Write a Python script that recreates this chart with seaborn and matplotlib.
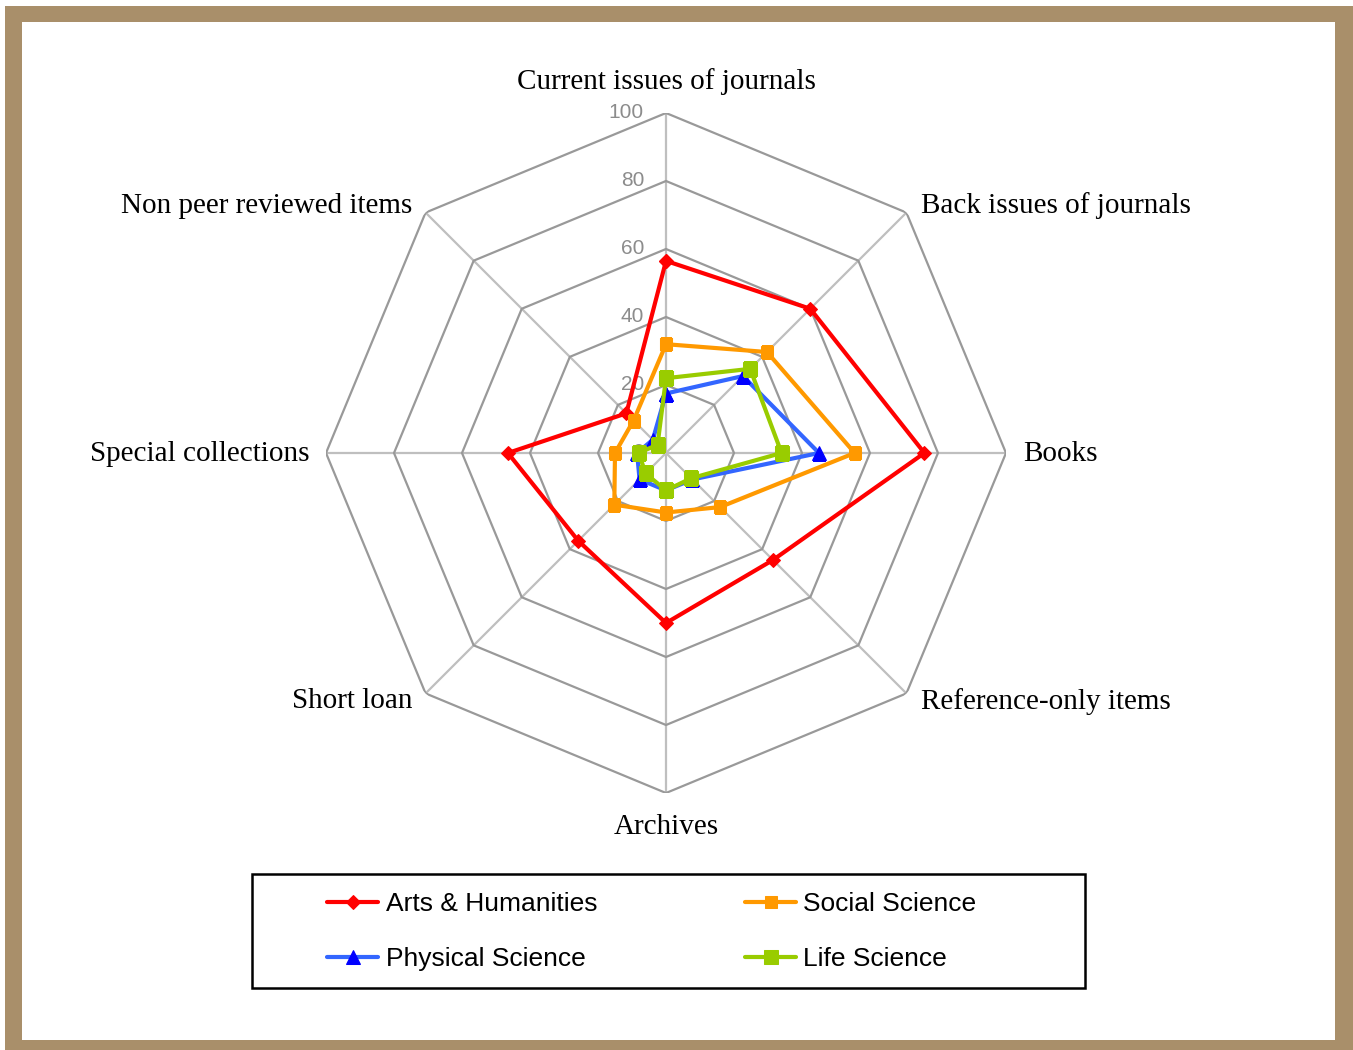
import numpy as np
import pandas as pd
import matplotlib
matplotlib.use("Agg")
import matplotlib.pyplot as plt
import seaborn as sns
from matplotlib.patches import Rectangle

categories = [
    "Current issues of journals",
    "Back issues of journals",
    "Books",
    "Reference-only items",
    "Archives",
    "Short loan",
    "Special collections",
    "Non peer reviewed items",
]
arts = [56.5, 60, 76, 44.5, 50, 36.5, 46.5, 16.5]
social = [32, 42, 55.5, 22.5, 17.5, 21.5, 15, 13.5]
physical = [17.5, 32, 45, 11, 11, 11, 8.5, 5.5]
life = [22, 35, 34, 10.5, 11, 8.5, 8, 3.5]
ticks = [0, 20, 40, 60, 80, 100]

series = [
    ("Arts & Humanities", arts, "#FF0000", "#FF0000", "D", 7),
    ("Social Science", social, "#FF9900", "#FF9900", "s", 9),
    ("Physical Science", physical, "#3366FF", "#0000FF", "^", 10),
    ("Life Science", life, "#99CC00", "#99CC00", "s", 10),
]

sns.set_style("white")
plt.rcParams["font.family"] = ["Liberation Sans", "DejaVu Sans"]
plt.rcParams["text.color"] = "black"

fig = plt.figure(figsize=(13.53, 10.5), dpi=100)
fig.patch.set_facecolor("white")

# brown frame
fig.patches.append(Rectangle((5 / 1353, 0), 1 - 5 / 1353, 1044 / 1050,
                             transform=fig.transFigure, facecolor="#A98F6A",
                             edgecolor="none", zorder=-10))
fig.patches.append(Rectangle((22 / 1353, 10 / 1050), (1335 - 22) / 1353, 1018 / 1050,
                             transform=fig.transFigure, facecolor="white",
                             edgecolor="none", zorder=-9))

ax = fig.add_axes([326 / 1353, (1050 - 453 - 340) / 1050, 680 / 1353, 680 / 1050], polar=True)
ax.set_facecolor("none")
ax.set_theta_zero_location("N")
ax.set_theta_direction(-1)
ax.set_ylim(0, 100)
ax.grid(False)
ax.spines["polar"].set_visible(False)
ax.set_xticks([])
ax.set_yticks([])

n = len(categories)
theta = np.linspace(0, 2 * np.pi, n, endpoint=False)
theta_closed = np.append(theta, 2 * np.pi)

# spokes and octagon rings
for t in theta:
    ax.plot([t, t], [0, 100], color="#BFBFBF", lw=1.6, zorder=1)
for v in ticks[1:]:
    ax.plot(theta_closed, [v] * (n + 1), color="#999999", lw=1.6, zorder=1)

for v in ticks:
    ax.annotate(str(v), xy=(0, v), xytext=(-22, 0), textcoords="offset pixels",
                ha="right", va="center", fontsize=15, color="#8C8C8C", zorder=2)

for name, vals, lc, mc, mk, ms in series:
    df = pd.DataFrame({"theta": theta_closed, "value": vals + vals[:1]})
    sns.lineplot(data=df, x="theta", y="value", ax=ax, sort=False, color=lc,
                 lw=3, marker=mk, markersize=ms, markerfacecolor=mc,
                 markeredgecolor=mc, label=name, legend=False, zorder=3)
ax.set_xlabel("")
ax.set_ylabel("")
ax.set_ylim(0, 100)

label_offsets = [(0, 18, "center", "bottom"), (15, 7, "left", "center"),
                 (17, -1, "left", "center"), (15, -8, "left", "center"),
                 (0, -21, "center", "top"), (-13, -8, "right", "center"),
                 (-16, -1, "right", "center"), (-13, 7, "right", "center")]
for t, cat, (dx, dy, ha, va) in zip(theta, categories, label_offsets):
    ax.annotate(cat, xy=(t, 100), xytext=(dx, dy), textcoords="offset pixels",
                ha=ha, va=va, fontsize=21, family=["Liberation Serif", "DejaVu Serif"],
                color="black", annotation_clip=False)

# legend box
fig.patches.append(Rectangle((252 / 1353, 62 / 1050), 833 / 1353, 114 / 1050,
                             transform=fig.transFigure, facecolor="white",
                             edgecolor="black", lw=1.8, zorder=1))
handles, labels = ax.get_legend_handles_labels()
order = [0, 2, 1, 3]
leg = fig.legend([handles[i] for i in order], [labels[i] for i in order], ncol=2,
                 loc="upper left", bbox_to_anchor=(327 / 1353, 1 - 892 / 1050),
                 fontsize=19, frameon=False, handlelength=1.95, handletextpad=0.27,
                 labelspacing=1.18, columnspacing=5.6, borderpad=0, borderaxespad=0)
leg.set_zorder(2)

fig.savefig("out.png", dpi=100, facecolor="white")
